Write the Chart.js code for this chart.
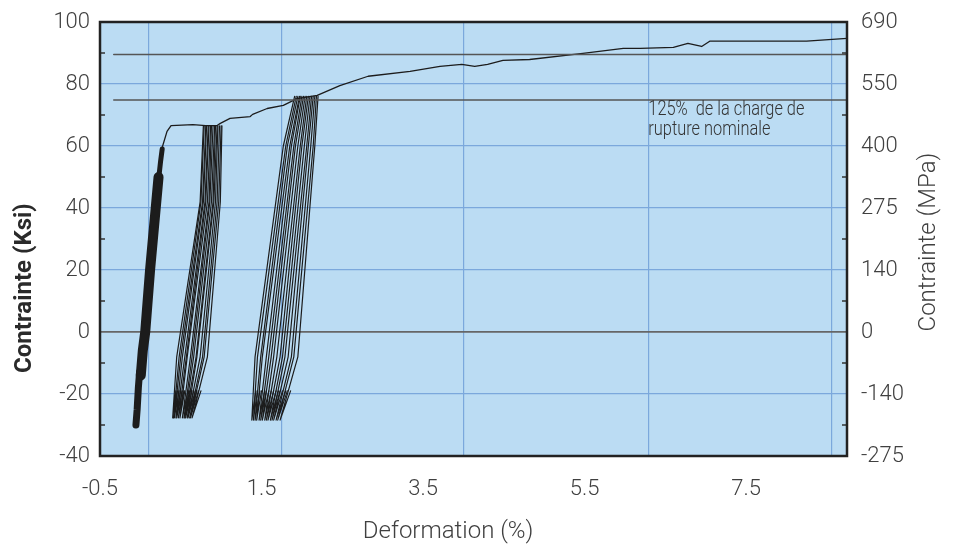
<!DOCTYPE html>
<html>
<head>
<meta charset="utf-8">
<script src="https://cdn.jsdelivr.net/npm/chart.js@4"></script>
<style>
  html, body { margin: 0; padding: 0; background: #fff; }
</style>
</head>
<body>
<canvas id="chart" width="957" height="545"></canvas>
<script>
// axis ticks
var xTicks = [-0.5, 1.5, 3.5, 5.5, 7.5];
var xLabels = ['-0.5', '1.5', '3.5', '5.5', '7.5'];
var gridX = [0.1, 1.75, 4.0, 6.29, 8.56];
var ksiTicks = [100, 80, 60, 40, 20, 0, -20, -40];
var mpaLabels = ['690', '550', '400', '275', '140', '0', '-140', '-275'];
var minorTicks = [90, 70, 50, 30, 10, -10, -30];

// reference lines (Ksi)
var limitHigh = 89.5;
var limitLow = 74.8;
var limitStart = -0.33;
var noteX = 6.29;
var noteLines = ['125%  de la charge de', 'rupture nominale'];

// envelope curve
var envX = [0.27, 0.33, 0.38, 0.65, 0.81, 0.95, 0.99, 1.11, 1.36, 1.39, 1.57, 1.77, 1.94, 2.19, 2.47, 2.82, 3.34, 3.71, 3.98, 4.14, 4.30, 4.49, 4.82, 5.48, 5.98, 6.19, 6.60, 6.78, 6.95, 7.05, 8.25, 8.75];
var envY = [59.5, 64.7, 66.6, 66.9, 66.6, 66.6, 67.3, 68.9, 69.5, 70.2, 72.1, 73.1, 75.3, 76.3, 79.5, 82.5, 84.1, 85.7, 86.3, 85.7, 86.3, 87.6, 87.9, 89.9, 91.5, 91.5, 91.8, 93.1, 92.1, 93.8, 93.8, 94.7];

// first block of cycles (dense band): lower, middle and upper part
var bandLowX = [-0.055, -0.04, -0.025, -0.01];
var bandLowY = [-30, -25, -18, -13];
var bandMidX = [0.005, 0.03, 0.06, 0.12, 0.19, 0.225];
var bandMidY = [-14, -6, 0, 20, 40, 50];
var bandTopX = [0.22, 0.25, 0.27];
var bandTopY = [48, 55, 59];

// second block of cycles
var g2Y = [66.5, 42, -8, -27.7, -19];
var g2Top = [0.78, 0.79, 0.81, 0.82, 0.84, 0.85, 0.87, 0.88, 0.90, 0.92, 0.93, 0.95, 0.96, 0.98, 1.00, 1.01];
var g2Mid = [0.74, 0.75, 0.77, 0.78, 0.80, 0.81, 0.83, 0.85, 0.86, 0.88, 0.90, 0.91, 0.93, 0.95, 0.97, 0.99];
var g2Kink = [0.45, 0.48, 0.50, 0.52, 0.55, 0.57, 0.58, 0.62, 0.64, 0.66, 0.69, 0.70, 0.74, 0.77, 0.79, 0.83];
var g2Bot = [0.40, 0.41, 0.42, 0.44, 0.45, 0.47, 0.49, 0.52, 0.54, 0.55, 0.56, 0.58, 0.59, 0.61, 0.62, 0.64];
var g2Ret = [0.44, 0.46, 0.48, 0.50, 0.52, 0.54, 0.55, 0.59, 0.61, 0.62, 0.64, 0.66, 0.68, 0.70, 0.72, 0.75];

// third block of cycles
var g3Y = [76, 60, -8, -28.4, -19];
var g3Top = [1.91, 1.93, 1.95, 1.97, 1.98, 2.00, 2.02, 2.04, 2.06, 2.08, 2.10, 2.12, 2.14, 2.16, 2.18, 2.20];
var g3Shoulder = [1.77, 1.80, 1.82, 1.85, 1.87, 1.90, 1.92, 1.95, 1.98, 2.00, 2.03, 2.06, 2.08, 2.11, 2.14, 2.16];
var g3Kink = [1.42, 1.45, 1.49, 1.51, 1.56, 1.59, 1.62, 1.65, 1.69, 1.73, 1.76, 1.79, 1.83, 1.87, 1.90, 1.95];
var g3Bot = [1.38, 1.40, 1.42, 1.44, 1.47, 1.49, 1.51, 1.54, 1.56, 1.58, 1.61, 1.63, 1.65, 1.68, 1.70, 1.73];
var g3Ret = [1.43, 1.45, 1.48, 1.50, 1.54, 1.56, 1.59, 1.62, 1.65, 1.68, 1.71, 1.73, 1.76, 1.80, 1.82, 1.86];

var textColor = '#404040';
var gridBlue = '#7ba8dc';
var ink = '#1c1c1c';

function pts(xs, ys) {
    return xs.map(function (x, i) { return { x: x, y: ys[i] }; });
}

function lineSet(data, width, color) {
    return {
        data: data,
        showLine: true,
        pointRadius: 0,
        borderWidth: width,
        borderColor: color,
        borderCapStyle: 'round',
        borderJoinStyle: 'round',
        tension: 0,
        fill: false
    };
}

var datasets = [];
datasets.push(lineSet([{ x: limitStart, y: limitHigh }, { x: 8.75, y: limitHigh }], 1.5, '#555'));
datasets.push(lineSet([{ x: limitStart, y: limitLow }, { x: 8.75, y: limitLow }], 1.5, '#555'));

g2Top.forEach(function (t, i) {
    datasets.push(lineSet(pts([t, g2Mid[i], g2Kink[i], g2Bot[i], g2Ret[i]], g2Y), 1.2, ink));
});
g3Top.forEach(function (t, i) {
    datasets.push(lineSet(pts([t, g3Shoulder[i], g3Kink[i], g3Bot[i], g3Ret[i]], g3Y), 1.2, ink));
});

datasets.push(lineSet(pts(bandLowX, bandLowY), 7, ink));
datasets.push(lineSet(pts(bandMidX, bandMidY), 10, ink));
datasets.push(lineSet(pts(bandTopX, bandTopY), 5, ink));
datasets.push(lineSet(pts(envX, envY), 1.3, ink));

var decor = {
    id: 'decor',
    beforeDraw: function (chart) {
        var a = chart.chartArea, ctx = chart.ctx;
        ctx.save();
        ctx.fillStyle = '#bbdcf3';
        ctx.fillRect(a.left, a.top, a.right - a.left, a.bottom - a.top);
        ctx.restore();
    },
    afterDraw: function (chart) {
        var a = chart.chartArea, ctx = chart.ctx;
        var ys = chart.scales.y, xs = chart.scales.x;
        var w = a.right - a.left, h = a.bottom - a.top;
        ctx.save();

        // minor ticks inside the frame
        ctx.strokeStyle = '#333';
        ctx.lineWidth = 1.5;
        minorTicks.forEach(function (v) {
            var py = ys.getPixelForValue(v);
            ctx.beginPath();
            ctx.moveTo(a.left, py); ctx.lineTo(a.left + 5, py);
            ctx.moveTo(a.right - 5, py); ctx.lineTo(a.right, py);
            ctx.stroke();
        });

        // frame
        ctx.strokeStyle = '#222';
        ctx.lineWidth = 2.5;
        ctx.strokeRect(a.left, a.top, w, h);

        // axis titles
        ctx.fillStyle = textColor;
        ctx.textAlign = 'center';
        ctx.textBaseline = 'middle';
        ctx.save();
        ctx.translate(25, a.top + h * 0.613);
        ctx.rotate(-Math.PI / 2);
        ctx.font = 'bold 24px Roboto';
        ctx.fillStyle = '#2a2a2a';
        ctx.fillText('Contrainte (Ksi)', 0, 0);
        ctx.restore();

        ctx.save();
        ctx.translate(929, a.top + h * 0.507);
        ctx.rotate(-Math.PI / 2);
        ctx.font = '300 24px Roboto';
        ctx.fillText('Contrainte (MPa)', 0, 0);
        ctx.restore();

        ctx.font = '300 24px Roboto';
        ctx.fillText('Deformation (%)', a.left + w * 0.466, chart.height - 13);

        // note under the lower limit line
        ctx.save();
        ctx.translate(xs.getPixelForValue(noteX), ys.getPixelForValue(limitLow));
        ctx.scale(0.78, 1);
        ctx.font = '300 21px Roboto';
        ctx.textAlign = 'left';
        ctx.textBaseline = 'alphabetic';
        ctx.fillStyle = '#333';
        noteLines.forEach(function (t, i) {
            ctx.fillText(t, 0, 15 + i * 20);
        });
        ctx.restore();

        ctx.restore();
    }
};

var tickFont = { family: 'Roboto', size: 22, weight: '300' };

function noPad(s) {
    s.paddingTop = 0;
    s.paddingBottom = 0;
}

new Chart(document.getElementById('chart').getContext('2d'), {
    type: 'scatter',
    data: { datasets: datasets },
    options: {
        responsive: false,
        animation: false,
        layout: { padding: { top: 22, left: 0, right: 0, bottom: 0 } },
        plugins: { legend: { display: false }, tooltip: { enabled: false } },
        scales: {
            x: {
                type: 'linear', min: -0.5, max: 8.75,
                afterBuildTicks: function (s) { s.ticks = xTicks.map(function (v) { return { value: v }; }); },
                afterFit: function (s) { s.height = 89; s.paddingLeft = 0; s.paddingRight = 0; },
                grid: { display: false },
                border: { display: false },
                ticks: {
                    font: tickFont, color: textColor, padding: 12, maxRotation: 0,
                    callback: function (v) { return xLabels[xTicks.indexOf(v)]; }
                }
            },
            xg: {
                type: 'linear', position: 'top', min: -0.5, max: 8.75,
                afterBuildTicks: function (s) { s.ticks = gridX.map(function (v) { return { value: v }; }); },
                afterFit: function (s) { s.height = 0; s.paddingLeft = 0; s.paddingRight = 0; },
                ticks: { display: false },
                grid: { color: gridBlue, lineWidth: 1.2, drawTicks: false },
                border: { display: false }
            },
            y: {
                min: -40, max: 100,
                afterFit: function (s) { s.width = 100; noPad(s); },
                ticks: { stepSize: 20, font: tickFont, color: textColor, padding: 10 },
                grid: {
                    drawTicks: false,
                    color: function (c) {
                        var v = c.tick.value;
                        if (v === 0) return '#666';
                        if (v === 100 || v === -40) return 'rgba(0,0,0,0)';
                        return gridBlue;
                    },
                    lineWidth: function (c) { return c.tick.value === 0 ? 1.8 : 1.2; }
                },
                border: { display: false }
            },
            y2: {
                position: 'right', min: -40, max: 100,
                afterFit: function (s) { s.width = 110; noPad(s); },
                ticks: {
                    stepSize: 20, font: tickFont, color: textColor, padding: 14,
                    callback: function (v) { return mpaLabels[ksiTicks.indexOf(v)]; }
                },
                grid: { drawOnChartArea: false, drawTicks: false },
                border: { display: false }
            }
        }
    },
    plugins: [decor]
});
</script>
</body>
</html>
